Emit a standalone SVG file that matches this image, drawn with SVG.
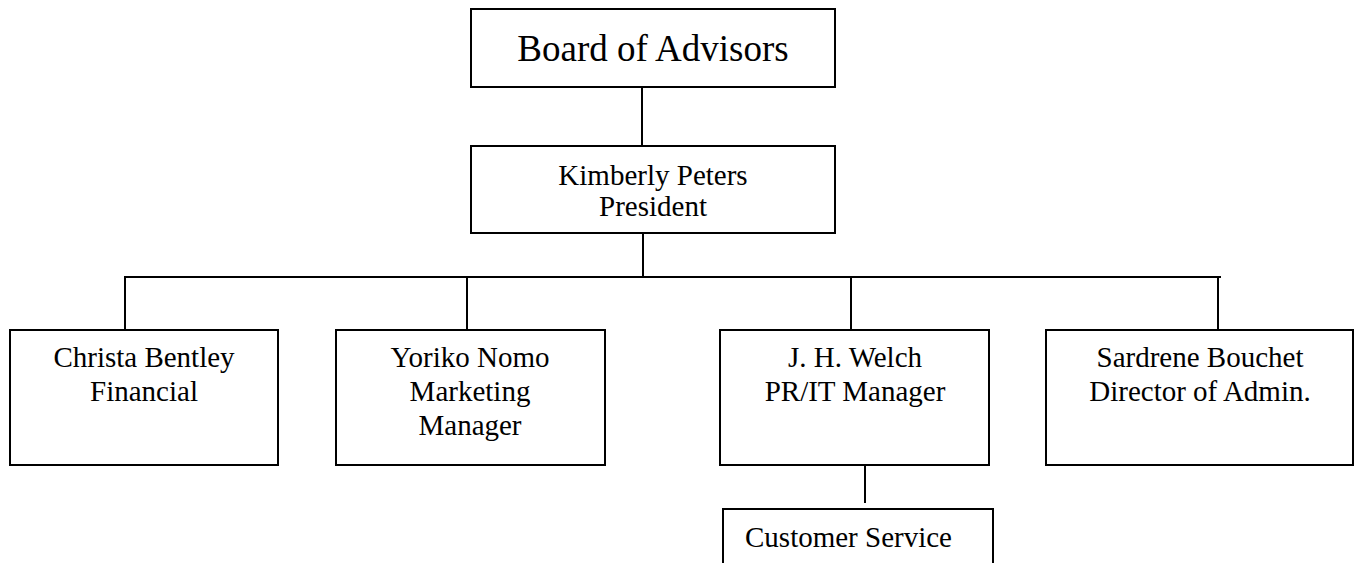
<svg xmlns="http://www.w3.org/2000/svg" width="1355" height="563" viewBox="0 0 1355 563">
<style>
.box{fill:#fff;stroke:#000;stroke-width:2}
.ln{stroke:#000;stroke-width:2;fill:none}
text{font-family:"Liberation Serif","Times New Roman",serif;font-size:29px;fill:#000;text-anchor:middle}
</style>
<rect width="1355" height="563" fill="#fff"/>
<g id="connectors">
<line class="ln" x1="642" y1="87" x2="642" y2="146"/>
<line class="ln" x1="643" y1="233" x2="643" y2="277"/>
<line class="ln" x1="124" y1="277" x2="1221" y2="277"/>
<line class="ln" x1="125" y1="277" x2="125" y2="330"/>
<line class="ln" x1="467" y1="277" x2="467" y2="330"/>
<line class="ln" x1="851" y1="277" x2="851" y2="330"/>
<line class="ln" x1="1218" y1="277" x2="1218" y2="330"/>
<line class="ln" x1="865" y1="465" x2="865" y2="503"/>
</g>
<g id="board">
<rect class="box" x="471" y="9" width="364" height="78"/>
<text x="653" y="61" style="font-size:37px">Board of Advisors</text>
</g>
<g id="president">
<rect class="box" x="471" y="146" width="364" height="87"/>
<text x="653" y="185">Kimberly Peters</text>
<text x="653" y="216">President</text>
</g>
<g id="christa">
<rect class="box" x="10" y="330" width="268" height="135"/>
<text x="144" y="367">Christa Bentley</text>
<text x="144" y="401">Financial</text>
</g>
<g id="yoriko">
<rect class="box" x="336" y="330" width="269" height="135"/>
<text x="470" y="367">Yoriko Nomo</text>
<text x="470" y="401">Marketing</text>
<text x="470" y="435">Manager</text>
</g>
<g id="welch">
<rect class="box" x="720" y="330" width="269" height="135"/>
<text x="855" y="367">J. H. Welch</text>
<text x="855" y="401">PR/IT Manager</text>
</g>
<g id="sardrene">
<rect class="box" x="1046" y="330" width="307" height="135"/>
<text x="1200" y="367">Sardrene Bouchet</text>
<text x="1200" y="401">Director of Admin.</text>
</g>
<g id="customer">
<rect class="box" x="723" y="509" width="270" height="70"/>
<text x="745" y="547" style="text-anchor:start">Customer Service</text>
</g>
</svg>
